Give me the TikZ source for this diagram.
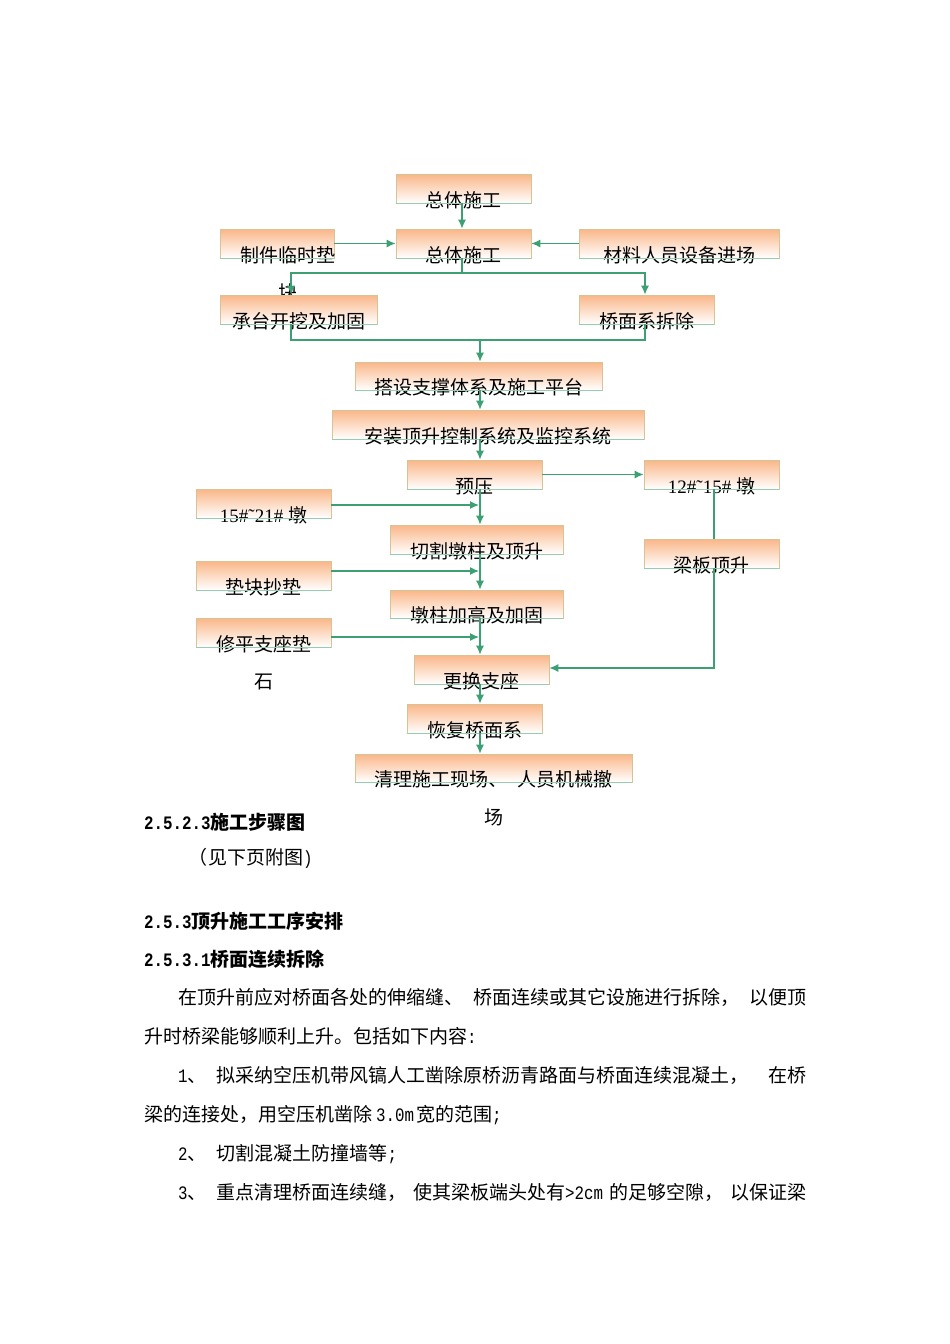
\documentclass[tikz,border=0pt]{standalone}
\usepackage{graphicx}
\usepackage{fontspec}
\setmainfont{Noto Sans CJK SC}
\newfontfamily\serifl{Liberation Serif}
\newfontfamily\monol{Liberation Mono}
\usetikzlibrary{arrows.meta}
\definecolor{boxor}{RGB}{250,182,136}
\definecolor{boxtan}{RGB}{214,196,150}
\definecolor{boxgr}{RGB}{150,205,175}
\definecolor{lnk}{RGB}{60,160,115}
\newcommand\hw[1]{\scalebox{0.833}[1]{\monol #1}}
\newcommand\hwb[1]{\scalebox{0.833}[1]{\monol\bfseries #1}}
\newcommand\btext[2][0pt]{\raisebox{-18.5pt}[0pt][0pt]{\makebox[0pt]{\hspace*{#1}#2}}}
\newcommand\fillsp{\hspace{0pt plus 1fil}}
\begin{document}
\begin{tikzpicture}[x=1pt,y=-1pt,
  font=\fontsize{19pt}{23pt}\selectfont,
  fbox/.style={draw=boxtan, line width=0.7pt, top color=boxor, bottom color=white,
    inner sep=0pt, minimum height=29pt, text=black},
  conn/.style={draw=lnk, line width=1.3pt},
  arr/.style={conn, -{Latex[length=9pt,width=8pt]}},
  ptxt/.style={anchor=west, inner sep=0pt},
  ctxt/.style={inner sep=0pt}]
\fill[white] (0,0) rectangle (950,1344);
\useasboundingbox (0,0) rectangle (950,1344);

% wrapped text piece hidden behind a box
\node[ctxt] (Cw) at (288,292) {块};

% boxes
\node[fbox, minimum width=135pt] (A) at (463.5,188.5) {\btext{总体施工}};
\node[fbox, minimum width=135pt] (B) at (463.5,243.5) {\btext{总体施工}};
\node[fbox, minimum width=114pt] (C) at (277,243.5) {\btext[22pt]{制件临时垫}};
\node[fbox, minimum width=200pt] (D) at (679,243.5) {\btext{材料人员设备进场}};
\node[fbox, minimum width=157pt] (E) at (298.5,309.5) {\btext{承台开挖及加固}};
\node[fbox, minimum width=135pt] (F) at (646.5,309.5) {\btext{桥面系拆除}};
\node[fbox, minimum width=247pt, minimum height=28pt] (G) at (478.5,376) {\btext{搭设支撑体系及施工平台}};
\node[fbox, minimum width=312pt] (H) at (488,424.5) {\btext{安装顶升控制系统及监控系统}};
\node[fbox, minimum width=135pt] (I) at (474.5,474.5) {\btext{预压}};
\node[fbox, minimum width=135pt] (J) at (711.5,474.5) {\btext{{\serifl 12\#˜15\# }墩}};
\node[fbox, minimum width=135pt] (K) at (263.5,503.5) {\btext{{\serifl 15\#˜21\# }墩}};
\node[fbox, minimum width=173pt] (L) at (476.5,539.5) {\btext{切割墩柱及顶升}};
\node[fbox, minimum width=135pt] (M) at (711.5,553.5) {\btext{梁板顶升}};
\node[fbox, minimum width=135pt] (N) at (263.5,575.5) {\btext{垫块抄垫}};
\node[fbox, minimum width=173pt, minimum height=28pt] (O) at (476.5,604) {\btext{墩柱加高及加固}};
\node[fbox, minimum width=135pt] (P) at (263.5,632.5) {\btext{修平支座垫}};
\node[fbox, minimum width=135pt] (Q) at (481.5,669.5) {\btext{更换支座}};
\node[fbox, minimum width=135pt] (R) at (474.5,718.5) {\btext{恢复桥面系}};
\node[fbox, minimum width=277pt, minimum height=28pt] (S) at (493.5,768) {\btext{清理施工现场、\hspace{9.5pt}人员机械撤}};

\node[ctxt] (Pw) at (264,682) {石};
\node[ctxt] (Sw) at (494,817) {场};

% green bottom edges
\foreach \b in {A,B,C,D,E,F,G,H,I,J,K,L,M,N,O,P,Q,R,S}
  \draw[boxgr, line width=0.8pt] (\b.south west) -- (\b.south east);

% helper coordinates
\coordinate (t462) at (462,0);
\coordinate (t480) at (480,0);
\coordinate (t479) at (479,0);
\coordinate (t291) at (291,0);
\coordinate (t645) at (645,0);
\coordinate (t714) at (714,0);
\coordinate (y273) at (0,273);
\coordinate (y340) at (0,340);
\coordinate (y505) at (0,505);
\coordinate (y571) at (0,571);
\coordinate (y637) at (0,637);
\coordinate (y668) at (0,668);

% connectors
\draw[arr] (A.south -| t462) -- (B.north -| t462);
\draw[arr] (C.east) -- (B.west);
\draw[arr] (D.west) -- (B.east);
\draw[conn] (B.south -| t462) -- (t462 |- y273) coordinate (j1);
\draw[arr] (j1) -| (E.north -| t291);
\draw[arr] (j1) -| (F.north -| t645);
\draw[conn] (E.south -| t291) -- (t291 |- y340) -- (t645 |- y340) -- (F.south -| t645);
\draw[arr] (t480 |- y340) -- (G.north -| t480);
\draw[arr] (G.south -| t480) -- (H.north -| t480);
\draw[arr] (H.south -| t480) -- (I.north -| t480);
\draw[arr] (I.east) -- (J.west);
\draw[arr] (I.south -| t480) -- (L.north -| t480);
\draw[arr] (K.east |- y505) -- (t479 |- y505);
\draw[arr] (L.south -| t480) -- (O.north -| t480);
\draw[arr] (N.east |- y571) -- (t479 |- y571);
\draw[arr] (O.south -| t480) -- (Q.north -| t480);
\draw[arr] (P.east |- y637) -- (t479 |- y637);
\draw[conn] (J.south -| t714) -- (M.north -| t714);
\draw[arr] (M.south -| t714) |- (Q.east |- y668);
\draw[arr] (Q.south -| t480) -- (R.north -| t480);
\draw[arr] (R.south -| t480) -- (S.north -| t480);

% text below
\node[ptxt] (h1) at (144,822) {\bfseries\hwb{2.5.2.3}施工步骤图};
\node[ptxt] (h2) at (188,858) {（\hspace{1pt}见下页附图\hw{)}};
\node[ptxt] (h3) at (144,921) {\bfseries\hwb{2.5.3}顶升施工工序安排};
\node[ptxt] (h4) at (144,959) {\bfseries\hwb{2.5.3.1}桥面连续拆除};
\node[ptxt] (p1) at (178,997) {\makebox[628pt][s]{在顶升前应对桥面各处的伸缩缝、\hspace{9.5pt plus 2pt}桥面连续或其它设施进行拆除，\hspace{9.5pt plus 2pt}以便顶}};
\node[ptxt] (p2) at (144,1036) {升时桥梁能够顺利上升。包括如下内容\hw{:}};
\node[ptxt] (p3) at (178,1075) {\makebox[628pt][s]{\hw{1}、\hspace{10pt}拟采纳空压机带风镐人工凿除原桥沥青路面与桥面连续混凝土，\fillsp 在桥}};
\node[ptxt] (p4) at (144,1115) {梁的连接处，用空压机凿除\hspace{4pt}\hw{3.0m}\hspace{2pt}宽的范围\hw{;}};
\node[ptxt] (p5) at (178,1154) {\hw{2}、\hspace{10pt}切割混凝土防撞墙等\hw{;}};
\node[ptxt] (p6) at (178,1192) {\makebox[628pt][s]{\hw{3}、\hspace{10pt}重点清理桥面连续缝，\fillsp 使其梁板端头处有\hw{>2cm}\fillsp 的足够空隙，\fillsp 以保证梁}};
\end{tikzpicture}
\end{document}
